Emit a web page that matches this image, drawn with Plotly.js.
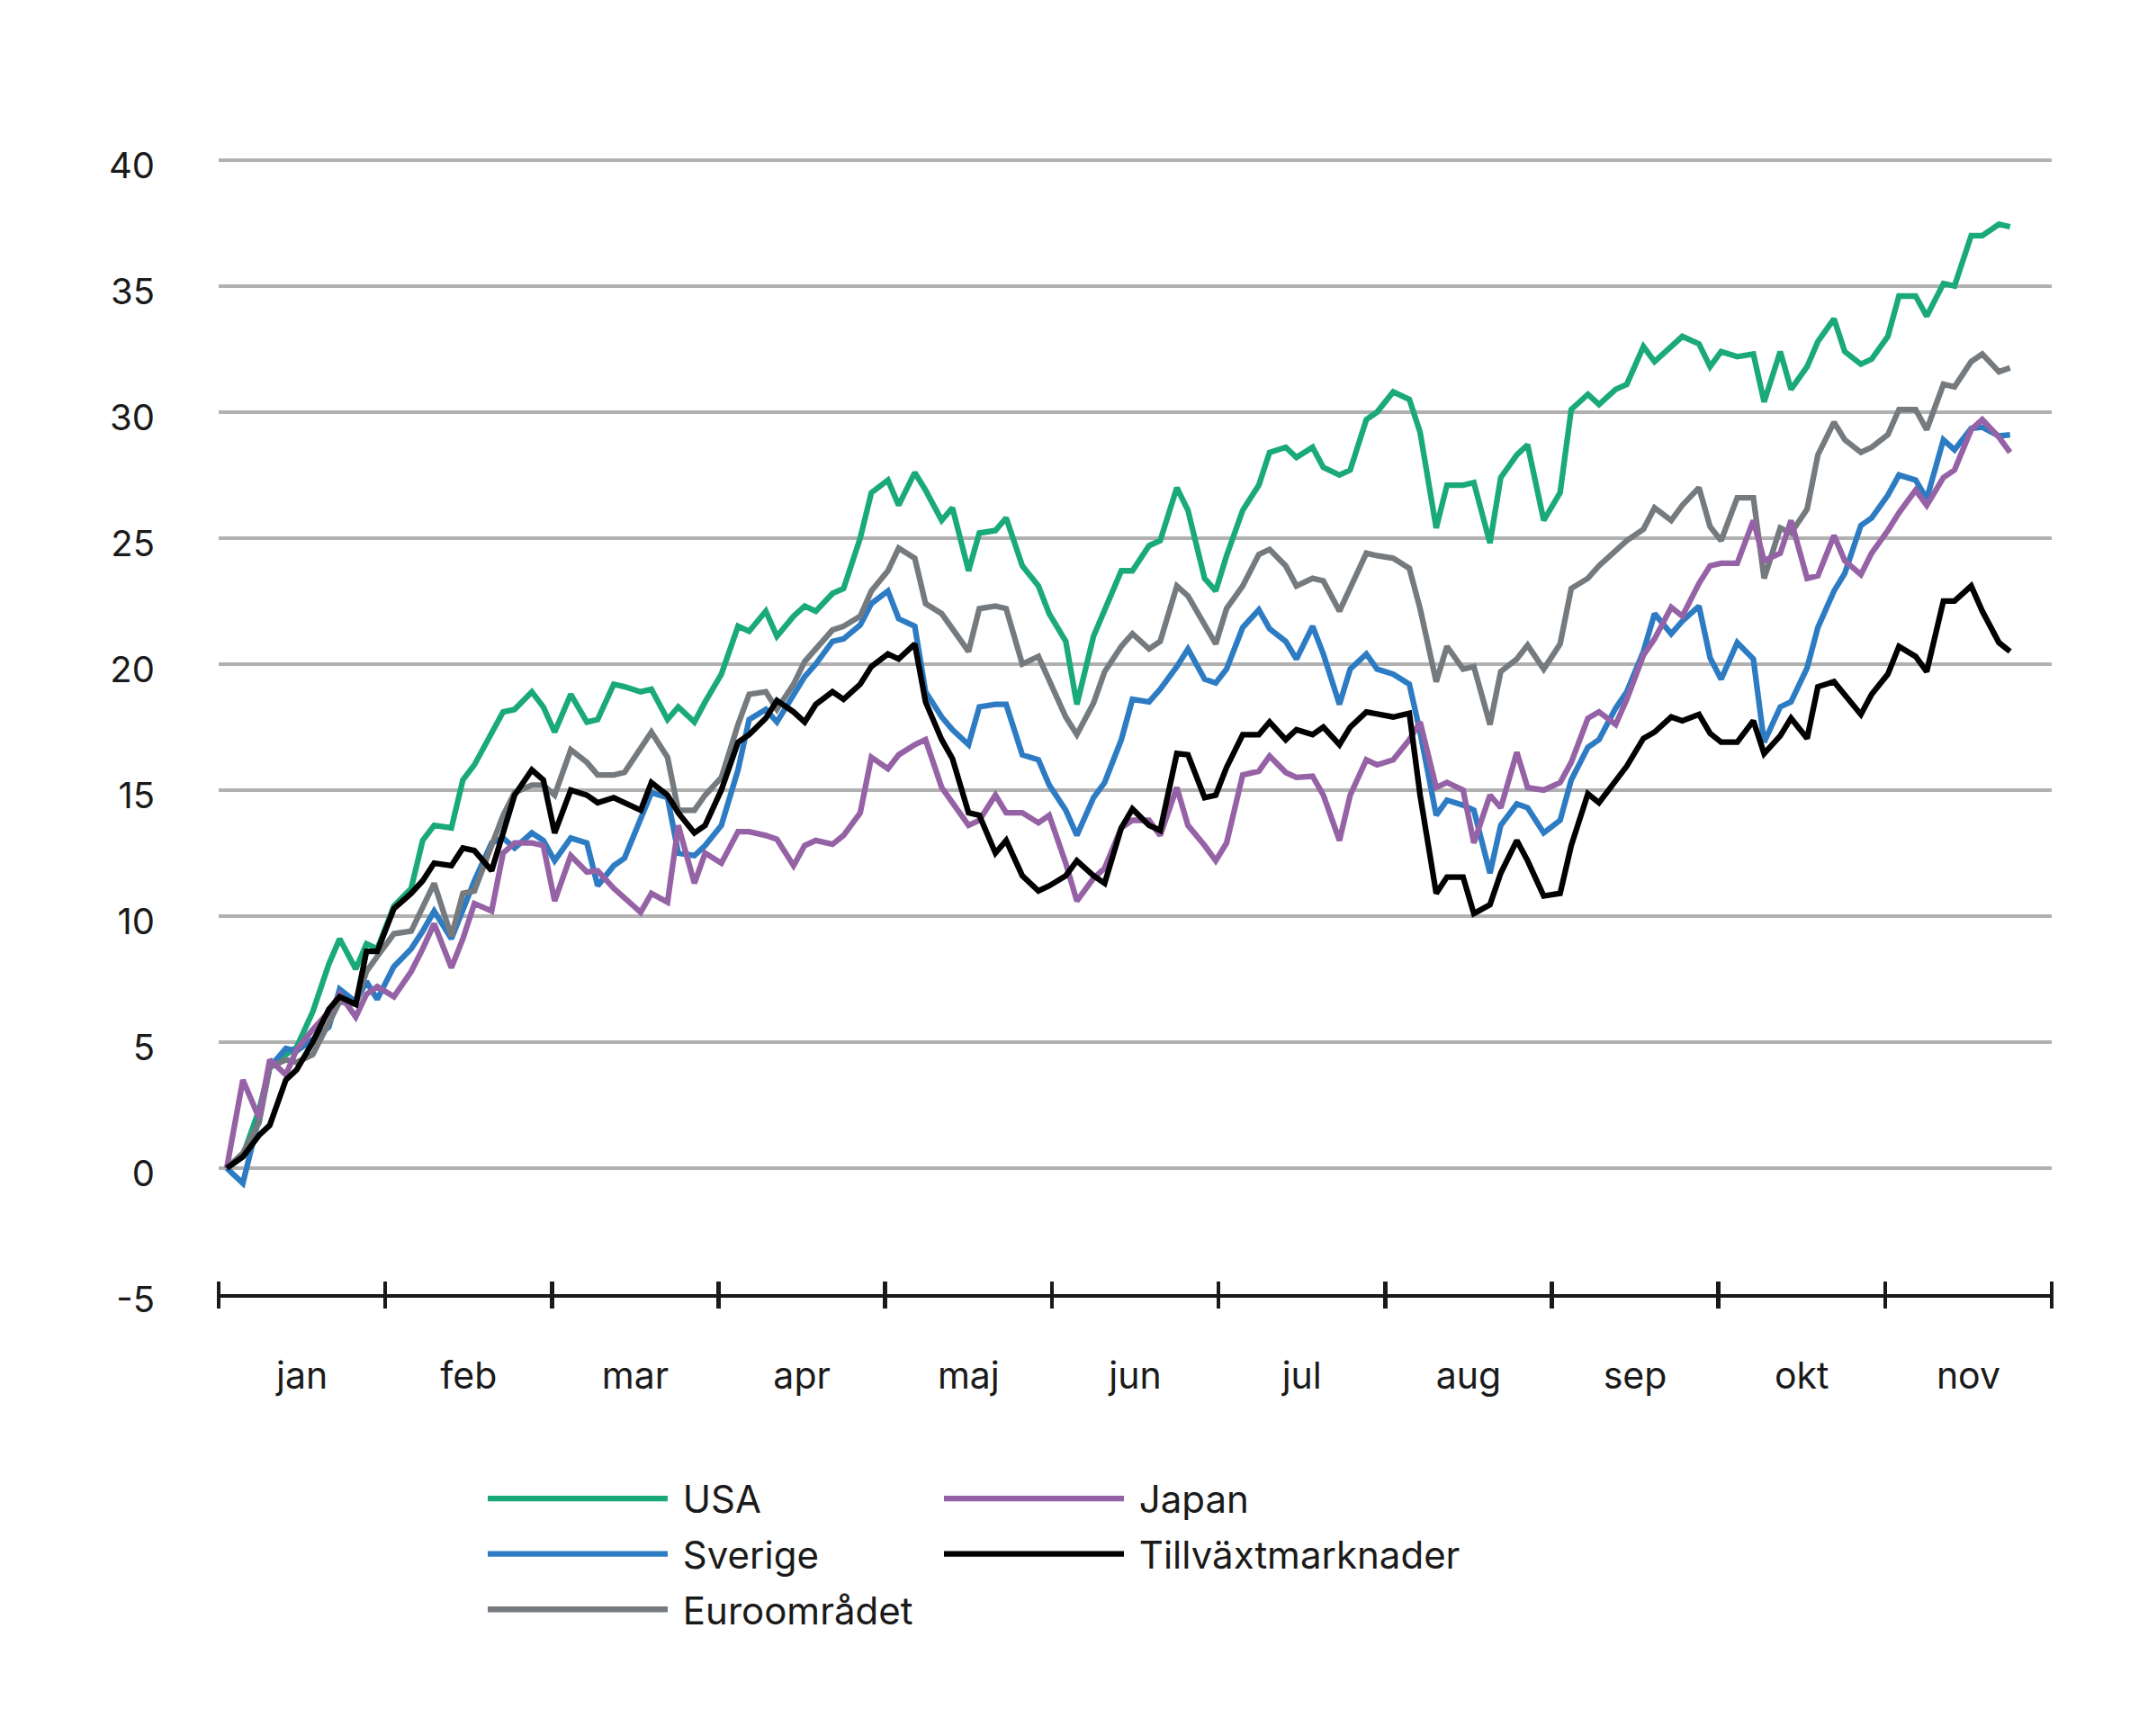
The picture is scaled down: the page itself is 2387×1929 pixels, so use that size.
<!DOCTYPE html>
<html>
<head>
<meta charset="utf-8">
<script src="https://cdn.plot.ly/plotly-3.0.1.min.js"></script>
<style>
html,body{margin:0;padding:0;background:#ffffff;}
#chart{width:2387px;height:1929px;}
</style>
</head>
<body>
<div id="chart"></div>
<script>
// ---- Data (cumulative return, %) ----
const manader = ['jan','feb','mar','apr','maj','jun','jul','aug','sep','okt','nov'];

const datum = [
'2024-01-02','2024-01-05','2024-01-08','2024-01-10','2024-01-13','2024-01-15','2024-01-18','2024-01-21','2024-01-23','2024-01-26','2024-01-28','2024-01-30',
'2024-02-02','2024-02-05','2024-02-07','2024-02-09','2024-02-12','2024-02-14','2024-02-16','2024-02-19','2024-02-21','2024-02-23','2024-02-26','2024-02-28',
'2024-03-01','2024-03-04','2024-03-07','2024-03-09','2024-03-12','2024-03-14','2024-03-17','2024-03-19','2024-03-22','2024-03-24','2024-03-27','2024-03-29',
'2024-04-01','2024-04-04','2024-04-06','2024-04-09','2024-04-11','2024-04-14','2024-04-16','2024-04-18','2024-04-21','2024-04-23','2024-04-26','2024-04-28',
'2024-05-01','2024-05-03','2024-05-06','2024-05-08','2024-05-11','2024-05-13','2024-05-16','2024-05-18','2024-05-21','2024-05-23','2024-05-26','2024-05-29','2024-05-31',
'2024-06-03','2024-06-05','2024-06-08','2024-06-10','2024-06-13','2024-06-15','2024-06-18','2024-06-20','2024-06-23','2024-06-25','2024-06-28','2024-06-30',
'2024-07-02','2024-07-05','2024-07-08','2024-07-10','2024-07-13','2024-07-15','2024-07-18','2024-07-20','2024-07-23','2024-07-25','2024-07-28','2024-07-30',
'2024-08-02','2024-08-05','2024-08-07','2024-08-10','2024-08-12','2024-08-15','2024-08-17','2024-08-20','2024-08-22','2024-08-25','2024-08-27','2024-08-30',
'2024-09-02','2024-09-04','2024-09-07','2024-09-09','2024-09-12','2024-09-14','2024-09-17','2024-09-19','2024-09-22','2024-09-24','2024-09-27','2024-09-29',
'2024-10-01','2024-10-04','2024-10-07','2024-10-09','2024-10-12','2024-10-14','2024-10-17','2024-10-19','2024-10-22','2024-10-24','2024-10-27','2024-10-29',
'2024-11-01','2024-11-03','2024-11-06','2024-11-08','2024-11-11','2024-11-13','2024-11-16','2024-11-18','2024-11-21','2024-11-23'
];

const usa = [
0,0.5,2.3,4.0,4.5,4.8,6.2,8.1,9.1,7.9,8.9,8.7,
10.4,11.1,13.0,13.6,13.5,15.4,16.0,17.3,18.1,18.2,18.9,18.3,
17.3,18.8,17.7,17.8,19.2,19.1,18.9,19.0,17.8,18.3,17.7,18.5,
19.6,21.5,21.3,22.1,21.1,21.9,22.3,22.1,22.8,23.0,25.0,26.8,
27.3,26.3,27.6,26.9,25.7,26.2,23.7,25.2,25.3,25.8,23.9,23.1,22.0,
20.9,18.4,21.1,22.2,23.7,23.7,24.7,24.9,27.0,26.1,23.4,22.9,
24.3,26.1,27.1,28.4,28.6,28.2,28.6,27.8,27.5,27.7,29.7,30.0,
30.8,30.5,29.2,25.4,27.1,27.1,27.2,24.8,27.4,28.3,28.7,25.7,
26.8,30.1,30.7,30.3,30.9,31.1,32.6,32.0,32.6,33.0,32.7,31.8,
32.4,32.2,32.3,30.4,32.4,30.9,31.8,32.8,33.7,32.4,31.9,32.1,
33.0,34.6,34.6,33.8,35.1,35.0,37.0,37.0,37.45,37.35
];

const sverige = [
0,-0.6,2.0,4.0,4.75,4.65,5.1,5.6,7.1,6.6,7.4,6.7,
8.0,8.7,9.4,10.2,9.1,10.3,11.4,12.9,13.1,12.7,13.3,13.0,
12.2,13.1,12.9,11.2,12.0,12.3,13.9,14.9,14.7,12.5,12.4,12.8,
13.6,15.8,17.8,18.2,17.7,18.8,19.5,20.0,20.9,21.0,21.55,22.4,
22.9,21.8,21.5,18.9,17.9,17.4,16.8,18.3,18.4,18.4,16.4,16.2,15.2,
14.2,13.2,14.7,15.3,17.0,18.6,18.5,19.0,19.9,20.6,19.4,19.25,
19.8,21.45,22.15,21.4,20.9,20.2,21.5,20.4,18.4,19.8,20.4,19.8,
19.6,19.2,17.3,14.0,14.6,14.4,14.2,11.7,13.6,14.45,14.3,13.3,
13.8,15.4,16.7,17.0,18.25,18.9,20.5,22.0,21.2,21.7,22.3,20.25,
19.4,20.85,20.2,16.9,18.3,18.5,19.85,21.45,22.9,23.6,25.5,25.8,
26.7,27.5,27.3,26.55,28.9,28.5,29.35,29.4,29.05,29.1
];

const euroomradet = [
0,0.6,1.8,4.0,4.3,4.2,4.5,5.7,6.6,6.5,7.8,8.4,
9.3,9.4,10.4,11.3,9.2,10.9,11.0,12.8,14.0,14.9,15.2,15.2,
14.8,16.6,16.1,15.6,15.6,15.7,16.7,17.3,16.3,14.2,14.2,14.8,
15.5,17.6,18.8,18.9,18.2,19.2,20.1,20.6,21.35,21.5,21.9,22.9,
23.7,24.6,24.2,22.4,22.0,21.4,20.5,22.2,22.3,22.2,20.0,20.3,19.4,
17.9,17.2,18.45,19.7,20.7,21.2,20.6,20.9,23.1,22.7,21.5,20.8,
22.2,23.1,24.35,24.55,23.9,23.1,23.4,23.3,22.1,23.0,24.4,24.3,
24.2,23.8,22.2,19.3,20.7,19.8,19.9,17.6,19.7,20.2,20.75,19.8,
20.8,23.0,23.4,23.9,24.5,24.9,25.35,26.2,25.7,26.3,27.0,25.45,
24.9,26.6,26.6,23.4,25.4,25.2,26.15,28.3,29.6,28.9,28.4,28.6,
29.1,30.1,30.1,29.3,31.1,31.0,32.0,32.3,31.6,31.75
];

const japan = [
0,3.5,2.0,4.3,3.7,4.7,5.5,6.2,6.9,6.0,6.9,7.2,
6.8,7.8,8.7,9.7,7.95,9.1,10.5,10.2,12.5,12.9,12.9,12.8,
10.6,12.4,11.75,11.8,11.1,10.7,10.15,10.9,10.55,13.6,11.3,12.5,
12.1,13.35,13.35,13.2,13.05,12.0,12.8,13.0,12.85,13.2,14.1,16.3,
15.85,16.4,16.8,17.0,15.1,14.5,13.6,13.8,14.8,14.1,14.1,13.7,14.0,
12.1,10.6,11.5,11.9,13.5,13.8,13.8,13.2,15.1,13.6,12.8,12.2,
12.9,15.6,15.75,16.35,15.7,15.5,15.55,14.8,13.0,14.8,16.2,16.0,
16.2,17.0,17.7,15.1,15.3,15.0,12.9,14.8,14.3,16.5,15.1,15.0,
15.3,16.1,17.85,18.1,17.6,18.6,20.35,21.0,22.25,21.9,23.2,23.9,
24.0,24.0,25.7,24.1,24.4,25.7,23.4,23.5,25.1,24.1,23.55,24.4,
25.3,26.0,26.9,26.3,27.4,27.7,29.3,29.7,29.0,28.4
];

const tillvaxt = [
0,0.45,1.3,1.7,3.5,3.9,5.0,6.3,6.8,6.5,8.6,8.6,
10.3,10.9,11.4,12.1,12.0,12.7,12.6,11.8,13.3,14.8,15.8,15.4,
13.3,15.0,14.8,14.5,14.7,14.5,14.2,15.3,14.8,14.1,13.3,13.6,
15.0,16.9,17.2,17.85,18.55,18.1,17.7,18.4,18.9,18.6,19.2,19.9,
20.4,20.2,20.8,18.5,17.0,16.25,14.1,14.0,12.5,13.0,11.6,11.0,11.2,
11.6,12.2,11.6,11.3,13.5,14.25,13.6,13.4,16.45,16.4,14.7,14.8,
15.9,17.2,17.2,17.7,17.0,17.4,17.2,17.5,16.8,17.5,18.1,18.0,
17.9,18.05,14.8,10.9,11.55,11.55,10.1,10.45,11.7,13.0,12.2,10.8,
10.9,12.8,14.85,14.5,15.4,15.95,17.05,17.3,17.9,17.75,18.0,17.25,
16.9,16.9,17.75,16.45,17.15,17.85,17.05,19.1,19.3,18.75,18.0,18.8,
19.6,20.7,20.3,19.7,22.5,22.5,23.1,22.1,20.85,20.5
];

const yTicks = [-5,0,5,10,15,20,25,30,35,40];
const yTickLabels = ['-5','0','5','10','15','20','25','30','35','40'];

// ---- Helpers ----
// month axis with equal month widths: position = month index + fraction of month
function pos(d){
  const p = d.split('-').map(Number);
  const dim = new Date(p[0], p[1], 0).getDate();
  return (p[1]-1) + (p[2]-0.5)/dim;
}
const xs = datum.map(pos);
const nM = manader.length;
const monthBounds = Array.from({length:nM+1}, (_,i)=>i);     // tick marks at month starts
const monthMids = manader.map((_,i)=>i+0.5);                   // labels centred in each month

const FONT = 'Inter, "Liberation Sans", Arial, sans-serif';
const TXT = '#1a1a1a';
const NB = '\u00a0';

function serie(name, vals, color, legend, xaxis){
  return {
    type:'scatter', mode:'lines', name:NB+name, x:xs, y:vals,
    line:{color:color, width:6.3},
    legend:legend, legendgroup:name, xaxis:xaxis||'x', yaxis:'y', hoverinfo:'skip'
  };
}

const data = [
  serie('USA', usa, '#1aa97b', 'legend'),
  serie('Sverige', sverige, '#2d7cc3', 'legend'),
  serie('Euroområdet', euroomradet, '#757a7e', 'legend'),
  serie('Japan', japan, '#9662a6', 'legend2'),
  serie('Tillväxtmarknader', tillvaxt, '#000000', 'legend2', 'x2')
];

const legendBase = {
  xanchor:'left', yanchor:'top', orientation:'v', itemwidth:200,
  bgcolor:'rgba(0,0,0,0)', traceorder:'grouped', tracegroupgap:4,
  font:{family:FONT, size:42, color:TXT}
};

const layout = {
  width:2387, height:1929,
  margin:{l:243, r:107, t:175, b:491, pad:0},
  paper_bgcolor:'#ffffff', plot_bgcolor:'#ffffff',
  font:{family:FONT, size:40, color:TXT},
  showlegend:true,
  xaxis:{
    range:[0, nM], fixedrange:true,
    tickmode:'array', tickvals:monthMids, ticktext:manader,
    ticks:'', showline:true, linecolor:TXT, linewidth:4,
    showgrid:false, zeroline:false,
    ticklabelstandoff: 52,
    tickfont:{family:FONT, size:41, color:TXT}
  },
  xaxis2:{
    overlaying:'x', anchor:'free', position:15/1263, side:'bottom',
    range:[0, nM], fixedrange:true,
    tickmode:'array', tickvals:monthBounds,
    ticks:'outside', ticklen:30, tickwidth:4.5, tickcolor:TXT,
    showticklabels:false, showline:false, showgrid:false, zeroline:false
  },
  yaxis:{
    range:[-5, 40.1], fixedrange:true,
    tickmode:'array', tickvals:yTicks, ticktext:yTickLabels,
    showgrid:true, gridcolor:'#b1b1b1', gridwidth:4,
    zeroline:false, showline:false, ticks:'',
    ticklabelstandoff: 70, ticklabelshift: 6,
    tickfont:{family:FONT, size:40, color:TXT}
  },
  legend:Object.assign({}, legendBase, {x:(537-243)/2037, y:-0.153}),
  legend2:Object.assign({}, legendBase, {x:(1044-243)/2037, y:-0.153})
};

Plotly.newPlot('chart', data, layout, {staticPlot:true, displayModeBar:false});
</script>
</body>
</html>
